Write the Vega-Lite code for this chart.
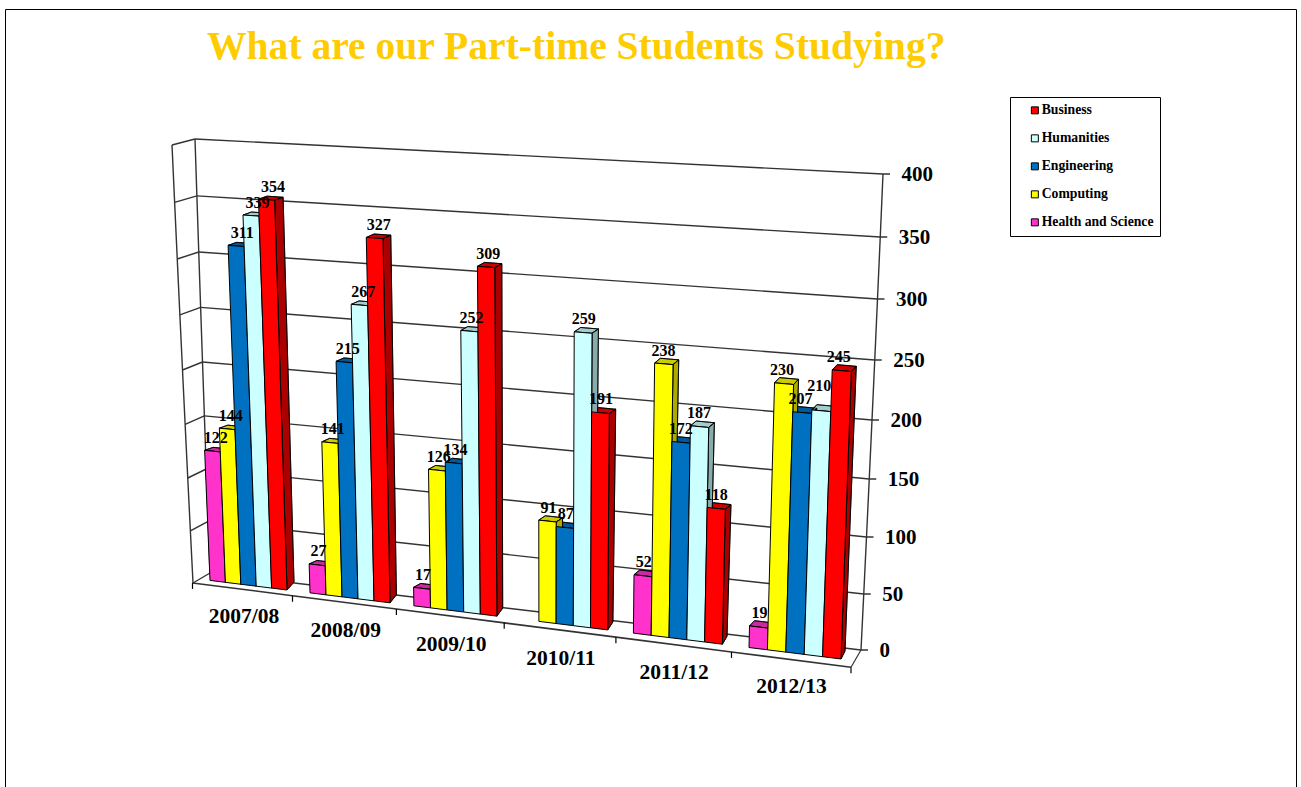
{
  "$schema": "https://vega.github.io/schema/vega-lite/v6.json",
  "autosize": {"type": "none"},
  "width": 1291,
  "height": 778,
  "padding": {"left": 5, "top": 9, "right": 5, "bottom": 0},
  "background": "white",
  "config": {"view": {"stroke": "#000000", "strokeWidth": 1}},
  "title": {
    "text": "What are our Part-time Students Studying?",
    "font": "Liberation Serif", "fontWeight": "bold", "fontSize": 39.6, "color": "#FFCC00",
    "anchor": "start", "frame": "group", "orient": "top", "baseline": "middle", "dx": 202, "offset": -78
  },
  "datasets": {
    "enrolments": [
      {"year": "2007/08", "subject": "Health and Science", "students": 122},
      {"year": "2007/08", "subject": "Computing", "students": 144},
      {"year": "2007/08", "subject": "Engineering", "students": 311},
      {"year": "2007/08", "subject": "Humanities", "students": 339},
      {"year": "2007/08", "subject": "Business", "students": 354},
      {"year": "2008/09", "subject": "Health and Science", "students": 27},
      {"year": "2008/09", "subject": "Computing", "students": 141},
      {"year": "2008/09", "subject": "Engineering", "students": 215},
      {"year": "2008/09", "subject": "Humanities", "students": 267},
      {"year": "2008/09", "subject": "Business", "students": 327},
      {"year": "2009/10", "subject": "Health and Science", "students": 17},
      {"year": "2009/10", "subject": "Computing", "students": 126},
      {"year": "2009/10", "subject": "Engineering", "students": 134},
      {"year": "2009/10", "subject": "Humanities", "students": 252},
      {"year": "2009/10", "subject": "Business", "students": 309},
      {"year": "2010/11", "subject": "Computing", "students": 91},
      {"year": "2010/11", "subject": "Engineering", "students": 87},
      {"year": "2010/11", "subject": "Humanities", "students": 259},
      {"year": "2010/11", "subject": "Business", "students": 191},
      {"year": "2011/12", "subject": "Health and Science", "students": 52},
      {"year": "2011/12", "subject": "Computing", "students": 238},
      {"year": "2011/12", "subject": "Engineering", "students": 172},
      {"year": "2011/12", "subject": "Humanities", "students": 187},
      {"year": "2011/12", "subject": "Business", "students": 118},
      {"year": "2012/13", "subject": "Health and Science", "students": 19},
      {"year": "2012/13", "subject": "Computing", "students": 230},
      {"year": "2012/13", "subject": "Engineering", "students": 207},
      {"year": "2012/13", "subject": "Humanities", "students": 210},
      {"year": "2012/13", "subject": "Business", "students": 245}
    ],
    "scaleTicks": [
      {"level": 0}, {"level": 50}, {"level": 100}, {"level": 150}, {"level": 200},
      {"level": 250}, {"level": 300}, {"level": 350}, {"level": 400}
    ],
    "periodEdges": [
      {"edge": 0, "year": "2007/08"}, {"edge": 1, "year": "2008/09"}, {"edge": 2, "year": "2009/10"},
      {"edge": 3, "year": "2010/11"}, {"edge": 4, "year": "2011/12"}, {"edge": 5, "year": "2012/13"},
      {"edge": 6, "year": null}
    ]
  },
  "encoding": {
    "x": {"field": "px", "type": "quantitative", "axis": null, "scale": {"domain": [5, 1296], "nice": false, "zero": false}},
    "y": {"field": "py", "type": "quantitative", "axis": null, "scale": {"domain": [787, 9], "nice": false, "zero": false}}
  },
  "layer": [
    {
      "data": {"name": "scaleTicks"},
      "transform": [
        {"calculate": "210-0.0375*datum.level", "as": "backLeftX"},
        {"calculate": "573-datum.level*(1.025+0.00015*datum.level)", "as": "backLeftY"},
        {"calculate": "861+0.055*datum.level", "as": "backRightX"},
        {"calculate": "650-datum.level*(1.11+0.0002*datum.level)", "as": "backRightY"},
        {"calculate": "193-0.0525*datum.level", "as": "sideX"},
        {"calculate": "datum.backLeftY+10-0.01*datum.level", "as": "sideY"}
      ],
      "layer": [
        {
          "transform": [
            {"calculate": "datum.backLeftX", "as": "px"}, {"calculate": "datum.backLeftY", "as": "py"},
            {"calculate": "datum.backRightX", "as": "px2"}, {"calculate": "datum.backRightY", "as": "py2"}
          ],
          "mark": {"type": "rule", "stroke": "#333333", "strokeWidth": 1.4},
          "encoding": {"x2": {"field": "px2"}, "y2": {"field": "py2"}}
        },
        {
          "transform": [
            {"calculate": "datum.sideX", "as": "px"}, {"calculate": "datum.sideY", "as": "py"},
            {"calculate": "datum.backLeftX", "as": "px2"}, {"calculate": "datum.backLeftY", "as": "py2"}
          ],
          "mark": {"type": "rule", "stroke": "#333333", "strokeWidth": 1.4},
          "encoding": {"x2": {"field": "px2"}, "y2": {"field": "py2"}}
        },
        {
          "transform": [
            {"calculate": "datum.backRightX", "as": "px"}, {"calculate": "datum.backRightY", "as": "py"},
            {"calculate": "datum.backRightX+7", "as": "px2"}, {"calculate": "datum.backRightY", "as": "py2"}
          ],
          "mark": {"type": "rule", "stroke": "#000000", "strokeWidth": 1.2},
          "encoding": {"x2": {"field": "px2"}, "y2": {"field": "py2"}}
        },
        {
          "transform": [{"calculate": "datum.backLeftX", "as": "px"}, {"calculate": "datum.backLeftY", "as": "py"}],
          "mark": {"type": "line", "stroke": "#333333", "strokeWidth": 1.4},
          "encoding": {"order": {"field": "level"}}
        },
        {
          "transform": [{"calculate": "datum.sideX", "as": "px"}, {"calculate": "datum.sideY", "as": "py"}],
          "mark": {"type": "line", "stroke": "#333333", "strokeWidth": 1.4},
          "encoding": {"order": {"field": "level"}}
        },
        {
          "transform": [{"calculate": "datum.backRightX", "as": "px"}, {"calculate": "datum.backRightY", "as": "py"}],
          "mark": {"type": "line", "stroke": "#333333", "strokeWidth": 1.4},
          "encoding": {"order": {"field": "level"}}
        },
        {
          "transform": [{"calculate": "datum.backRightX+18.5", "as": "px"}, {"calculate": "datum.backRightY+1", "as": "py"}],
          "mark": {"type": "text", "align": "left", "baseline": "middle", "font": "Liberation Serif", "fontWeight": "bold", "fontSize": 21, "fill": "#000000"},
          "encoding": {"text": {"field": "level", "type": "quantitative"}}
        }
      ]
    },
    {
      "data": {"name": "periodEdges"},
      "transform": [
        {"calculate": "210+100*datum.edge+1.95*datum.edge*(datum.edge-1)", "as": "groupLeft"},
        {"calculate": "datum.groupLeft-17.5", "as": "floorX"},
        {"calculate": "583+0.128*(datum.floorX-193)", "as": "floorY"}
      ],
      "layer": [
        {
          "transform": [{"calculate": "datum.floorX", "as": "px"}, {"calculate": "datum.floorY", "as": "py"}],
          "mark": {"type": "line", "stroke": "#333333", "strokeWidth": 1.6},
          "encoding": {"order": {"field": "edge"}}
        },
        {
          "transform": [
            {"calculate": "datum.floorX", "as": "px"}, {"calculate": "datum.floorY", "as": "py"},
            {"calculate": "datum.floorY+6", "as": "py2"}
          ],
          "mark": {"type": "rule", "stroke": "#000000", "strokeWidth": 1.2},
          "encoding": {"y2": {"field": "py2"}}
        },
        {
          "transform": [
            {"filter": "datum.edge==6"},
            {"calculate": "datum.floorX", "as": "px"}, {"calculate": "datum.floorY", "as": "py"},
            {"calculate": "861", "as": "px2"}, {"calculate": "650", "as": "py2"}
          ],
          "mark": {"type": "rule", "stroke": "#333333", "strokeWidth": 1.2},
          "encoding": {"x2": {"field": "px2"}, "y2": {"field": "py2"}}
        },
        {
          "transform": [
            {"filter": "datum.year!=null"},
            {"calculate": "datum.groupLeft+34+1.7*datum.edge", "as": "px"},
            {"calculate": "617+14*datum.edge", "as": "py"}
          ],
          "mark": {"type": "text", "align": "center", "baseline": "middle", "font": "Liberation Serif", "fontWeight": "bold", "fontSize": 21.5, "fill": "#000000"},
          "encoding": {"text": {"field": "year", "type": "nominal"}}
        }
      ]
    },
    {
      "data": {"name": "enrolments"},
      "transform": [
        {"calculate": "indexof(['2007/08','2008/09','2009/10','2010/11','2011/12','2012/13'],datum.year)", "as": "g"},
        {"calculate": "indexof(['Health and Science','Computing','Engineering','Humanities','Business'],datum.subject)", "as": "s"},
        {"calculate": "datum.year+'|'+datum.subject", "as": "barKey"},
        {"calculate": "15.4+0.6*datum.g", "as": "barWidth"},
        {"calculate": "210+100*datum.g+1.95*datum.g*(datum.g-1)+datum.s*datum.barWidth", "as": "xl"},
        {"calculate": "datum.xl+datum.barWidth", "as": "xr"},
        {"calculate": "datum.students*(1.054+0.00015*(datum.xl-210)+0.0001*datum.students)", "as": "hl"},
        {"calculate": "datum.students*(1.054+0.00015*(datum.xr-210)+0.0001*datum.students)", "as": "hr"},
        {"calculate": "590+0.1245*(datum.xl-287)", "as": "ayBase"},
        {"calculate": "590+0.1245*(datum.xr-287)", "as": "byBase"},
        {"calculate": "datum.xr+datum.hr*(datum.xr-548)*0.000122", "as": "cx"},
        {"calculate": "datum.byBase-datum.hr", "as": "cy"},
        {"calculate": "datum.xl+datum.hl*(datum.xl-548)*0.000122", "as": "dx"},
        {"calculate": "datum.ayBase-datum.hl", "as": "dy"},
        {"calculate": "8.5-0.7*datum.g", "as": "topDepthX"},
        {"calculate": "3+0.45*datum.g", "as": "topDepthY"},
        {"calculate": "7-0.6*datum.g", "as": "baseDepthX"}
      ],
      "layer": [
        {
          "transform": [
            {"calculate": "[datum.dx,datum.cx,datum.cx+datum.topDepthX,datum.dx+datum.topDepthX,datum.dx]", "as": "px"},
            {"calculate": "[datum.dy,datum.cy,datum.cy-datum.topDepthY,datum.dy-datum.topDepthY,datum.dy]", "as": "py"},
            {"calculate": "[0,1,2,3,4]", "as": "corner"},
            {"flatten": ["px", "py", "corner"]}
          ],
          "layer": [
            {
              "mark": {"type": "line", "stroke": "#000000", "strokeWidth": 0.8},
              "encoding": {
                "detail": {"field": "barKey"}, "order": {"field": "corner"},
                "fill": {"field": "subject", "type": "nominal"}
              }
            },
            {
              "mark": {"type": "line", "stroke": "#000000", "strokeWidth": 0.8, "fill": "#000000", "fillOpacity": 0.2},
              "encoding": {"detail": {"field": "barKey"}, "order": {"field": "corner"}}
            }
          ]
        },
        {
          "transform": [
            {"calculate": "[datum.xr,datum.cx,datum.cx+datum.topDepthX,datum.xr+datum.baseDepthX,datum.xr]", "as": "px"},
            {"calculate": "[datum.byBase,datum.cy,datum.cy-datum.topDepthY,datum.byBase-8,datum.byBase]", "as": "py"},
            {"calculate": "[0,1,2,3,4]", "as": "corner"},
            {"flatten": ["px", "py", "corner"]}
          ],
          "layer": [
            {
              "mark": {"type": "line", "stroke": "#000000", "strokeWidth": 0.8},
              "encoding": {
                "detail": {"field": "barKey"}, "order": {"field": "corner"},
                "fill": {"field": "subject", "type": "nominal"}
              }
            },
            {
              "mark": {"type": "line", "stroke": "#000000", "strokeWidth": 0.8, "fill": "#000000", "fillOpacity": 0.33},
              "encoding": {"detail": {"field": "barKey"}, "order": {"field": "corner"}}
            }
          ]
        },
        {
          "transform": [
            {"calculate": "[datum.xl,datum.xr,datum.cx,datum.dx,datum.xl]", "as": "px"},
            {"calculate": "[datum.ayBase,datum.byBase,datum.cy,datum.dy,datum.ayBase]", "as": "py"},
            {"calculate": "[0,1,2,3,4]", "as": "corner"},
            {"flatten": ["px", "py", "corner"]}
          ],
          "mark": {"type": "line", "stroke": "#000000", "strokeWidth": 1},
          "encoding": {
            "detail": {"field": "barKey"}, "order": {"field": "corner"},
            "fill": {
              "field": "subject", "type": "nominal",
              "scale": {
                "domain": ["Business", "Humanities", "Engineering", "Computing", "Health and Science"],
                "range": ["#FF0000", "#CCFFFF", "#0070C0", "#FFFF00", "#FF33CC"]
              },
              "legend": {
                "title": null, "orient": "none", "legendX": 1005, "legendY": 88,
                "fillColor": "#FFFFFF", "strokeColor": "#000000", "padding": 6.5,
                "symbolType": "square", "symbolSize": 49, "symbolStrokeColor": "#000000", "symbolStrokeWidth": 1,
                "symbolOffset": 11.5, "labelOffset": 0,
                "labelFont": "Liberation Serif", "labelFontWeight": "bold", "labelFontSize": 13.7, "labelColor": "#000000",
                "rowPadding": 13
              }
            }
          }
        },
        {
          "transform": [
            {"calculate": "(datum.dx+datum.cx)/2", "as": "topMidX"},
            {"calculate": "datum.topMidX+1+(datum.hl+datum.hr)/2*(548-datum.xl)*0.00005", "as": "px"},
            {"calculate": "datum.dy-(datum.barKey=='2012/13|Humanities'?24:12.5)", "as": "py"}
          ],
          "mark": {"type": "text", "align": "center", "baseline": "middle", "font": "Liberation Serif", "fontWeight": "bold", "fontSize": 16, "fill": "#000000"},
          "encoding": {"text": {"field": "students", "type": "quantitative"}}
        }
      ]
    }
  ]
}
